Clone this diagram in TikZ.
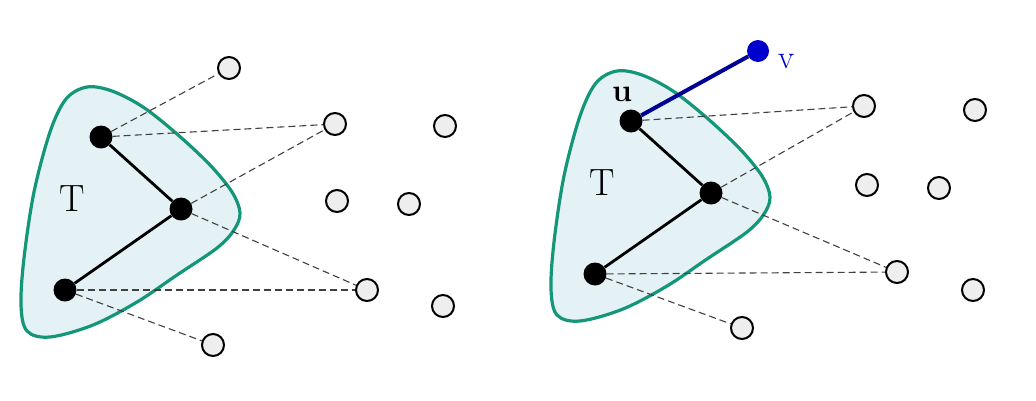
\documentclass[tikz,border=0pt]{standalone}
\usepackage{fontspec}
\usepackage{tikz}
\usetikzlibrary{positioning}
\definecolor{blobgreen}{RGB}{20,150,120}
\definecolor{blobfill}{RGB}{228,242,246}
\definecolor{nodegray}{RGB}{238,238,238}
\definecolor{vblue}{RGB}{0,0,205}
\definecolor{edgeblue}{RGB}{0,0,150}
\tikzstyle{tnode} = [circle, fill=black, minimum size=23pt, inner sep=0pt]
\tikzstyle{other} = [circle, draw=black, line width=2pt, fill=nodegray,
minimum size=22pt, inner sep=0pt]
\tikzstyle{vnode} = [circle, fill=vblue, minimum size=22pt, inner sep=0pt]
\tikzstyle{treeedge} = [line width=2.8pt]
\tikzstyle{cut} = [line width=1.1pt, dash pattern=on 7pt off 4pt, black!75]
\tikzstyle{blob} = [draw=blobgreen, line width=3.2pt, fill=blobfill]
\tikzstyle{biglabel} = [font=\fontsize{38}{40}\selectfont]

\begin{document}
\begin{tikzpicture}[x=1pt, y=-1pt]
    \useasboundingbox (0,0) rectangle (1036,400);

    % the two trees T
    \foreach \dx/\dy in {0/0, 530/-16}
        \draw[blob, shift={(\dx,\dy)}] plot[smooth cycle, tension=0.55] coordinates {
            (87,87) (112,91) (143,107) (177,134) (210,165) (232,192)
            (240,213) (234,230) (217,248) (177,275) (137,302) (93,325)
            (50,337) (27,331) (21,305) (24,258) (34,192) (50,132) (66,99)};

    % left panel
    \node (l1) [tnode] at (101,137) {};
    \node (l2) [tnode] at (181,209) {};
    \node (l3) [tnode] at (65,290) {};
    \node (labL) [biglabel] at (72,199) {T};
    \foreach \n/\x/\y in {lp1/229/68, lp2/335/124, lp3/445/126, lp4/337/201,
                          lp5/409/204, lp6/367/290, lp7/443/306, lp8/213/345}
        \node (\n) [other] at (\x,\y) {};

    \draw[treeedge] (l1) -- (l2) -- (l3);
    \draw[cut] (l1) -- (lp1);
    \draw[cut] (l1) -- (lp2);
    \draw[cut] (l2) -- (lp2);
    \draw[cut] (l2) -- (lp6);
    \draw[cut] (l3) -- (lp6);
    \draw[cut] (l3) -- (lp8);

    % right panel
    \node (r1) [tnode] at (631,121) {};
    \node (r2) [tnode] at (711,193) {};
    \node (r3) [tnode] at (595,274) {};
    \node (v) [vnode] at (758,51) {};
    \node (labR) [biglabel] at (602,183) {T};
    \node (labu) [font=\fontsize{32}{34}\selectfont\bfseries] at (622,94) {u};
    \node (labv) [font=\fontsize{33}{35}\selectfont, text=vblue] at (786,62) {v};
    \foreach \n/\x/\y in {rp1/864/106, rp2/975/110, rp3/867/185, rp4/939/188,
                          rp5/897/272, rp6/973/290, rp7/742/328}
        \node (\n) [other] at (\x,\y) {};

    \draw[treeedge] (r1) -- (r2) -- (r3);
    \draw[line width=4pt, edgeblue] (r1) -- (v);
    \draw[cut] (r1) -- (rp1);
    \draw[cut] (r2) -- (rp1);
    \draw[cut] (r2) -- (rp5);
    \draw[cut] (r3) -- (rp5);
    \draw[cut] (r3) -- (rp7);

\end{tikzpicture}
\end{document}
